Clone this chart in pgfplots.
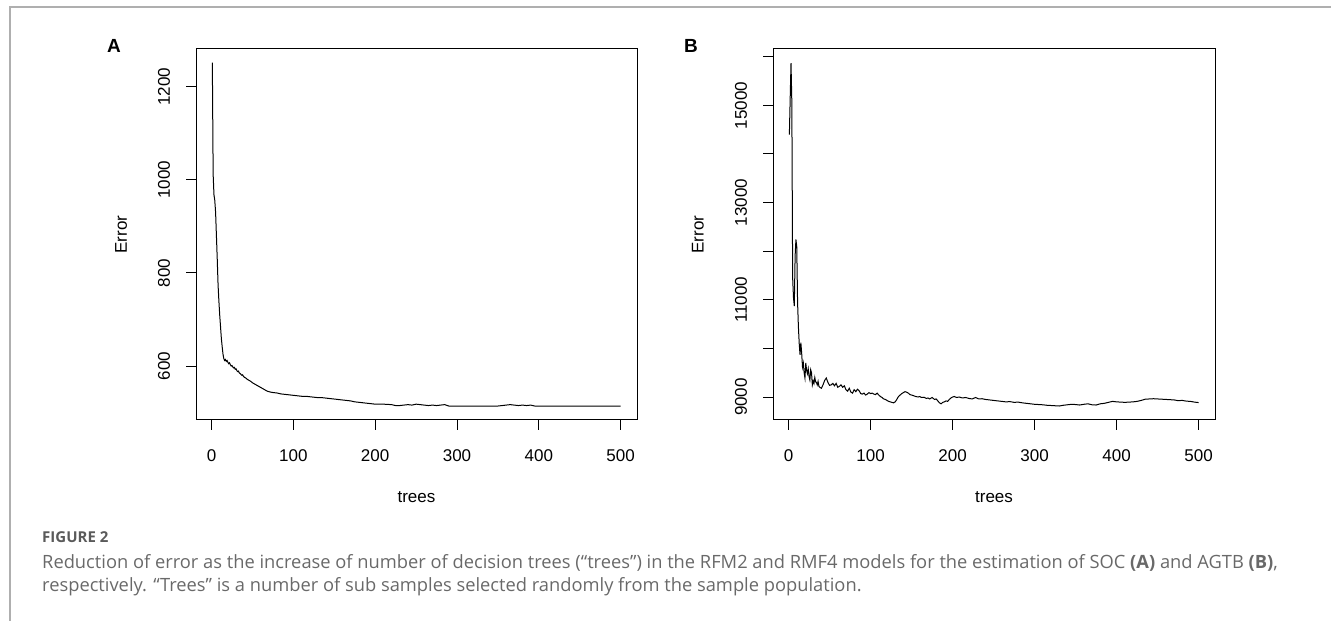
\documentclass[border=0pt]{standalone}
\usepackage{pgfplots}
\pgfplotsset{compat=1.18}
\usepackage{fontspec}
\setmainfont{Liberation Sans}
\newfontfamily\capfont{Open Sans}
\definecolor{framegray}{RGB}{175,175,175}
\definecolor{capgray}{RGB}{105,105,105}
\definecolor{figgray}{RGB}{90,90,90}

\pgfplotstableread{
x y
1 1252
2 1012
3 968
4 956
5 930
6 880
7 830
8 775
9 740
10 710
11 685
12 660
13 642
14 626
15 616
16 612
17 614
18 610
19 612
20 608
21 605
22 607
23 603
24 600
25 601
26 598
27 596
28 597
29 593
30 594
31 590
32 588
33 589
34 585
35 584
36 582
37 580
38 581
39 578
40 576
42 574
44 571
46 569
48 567
50 564
52 562
54 560
56 558
58 556
60 554
62 552
64 550
66 548
68 546
70 545
72 544
75 543
80 542
85 540
90 539
95 538
100 537
105 536
110 535
115 535
120 534
125 533
130 532
135 532
140 531
145 530
150 529
155 528
160 527
165 526
170 525
175 523
180 522
185 521
190 520
195 519
200 518
210 518
220 517
225 515
230 515
235 516
240 517
245 516
250 518
255 517
260 516
265 515
270 516
275 515
280 516
285 517
290 514
300 514
350 514
355 515
360 516
365 517
370 516
375 515
380 516
385 515
390 516
395 514
420 514
450 514
500 514
}\dataA

\pgfplotstableread{
x y
1 14400
2 15150
3 15870
4 15060
5 11450
6 11050
7 10870
8 11900
9 12240
10 12090
11 10950
12 10450
13 10100
14 9870
15 10120
16 9900
17 9620
18 9700
19 9500
20 9390
21 9700
22 9550
23 9480
24 9580
25 9420
26 9350
27 9560
28 9500
29 9250
30 9330
31 9280
32 9400
33 9310
34 9300
35 9250
36 9320
37 9220
38 9200
40 9180
42 9250
44 9340
46 9390
48 9300
50 9240
52 9250
54 9280
56 9230
58 9280
60 9200
62 9220
64 9250
66 9200
68 9230
70 9150
72 9120
74 9180
76 9100
78 9080
80 9150
82 9110
84 9160
86 9130
88 9070
90 9060
92 9080
94 9040
96 9060
98 9090
100 9070
102 9080
104 9060
106 9050
108 9080
110 9040
112 9010
114 8990
116 8960
118 8950
120 8930
122 8910
124 8900
126 8890
128 8880
130 8900
132 8950
134 9010
136 9040
138 9070
140 9090
142 9110
144 9100
146 9080
148 9050
150 9040
152 9030
155 9010
158 9000
160 9010
162 8990
165 8995
168 8970
170 8980
172 8960
175 8990
178 8950
180 8960
182 8920
184 8880
186 8860
188 8890
190 8900
192 8920
194 8910
196 8950
198 8980
200 9000
202 9010
205 8990
208 9000
212 8980
216 8990
220 8970
224 8960
228 8990
232 8960
236 8965
240 8950
245 8940
250 8930
255 8920
260 8910
265 8900
270 8905
275 8890
280 8895
285 8880
290 8870
295 8860
300 8850
305 8845
310 8840
315 8830
320 8825
325 8820
330 8815
335 8830
340 8840
345 8850
350 8845
355 8835
360 8850
365 8860
370 8840
375 8835
380 8860
385 8870
390 8890
395 8910
400 8900
405 8895
410 8890
415 8895
420 8900
425 8910
430 8930
435 8955
440 8960
445 8965
450 8960
455 8955
460 8950
465 8945
470 8940
475 8925
480 8930
485 8915
490 8910
495 8895
500 8885
}\dataB

\pgfplotsset{rstyle/.style={
  scale only axis, height=371pt,
  xmin=-18.96, xmax=519.96,
  axis line style={line width=1pt},
  tick align=outside, xtick pos=bottom, ytick pos=left,
  major tick length=10pt,
  every tick/.style={black, line width=1pt},
  xtick={0,100,...,500},
  scaled y ticks=false,
  tick label style={font=\fontsize{17}{17}\selectfont},
  label style={font=\fontsize{17}{17}\selectfont},
  /pgf/number format/assume math mode=true,
  /pgf/number format/set thousands separator={},
  xlabel={trees}, ylabel={Error},
  xlabel style={at={(axis description cs:0.5,-0.2075)}, anchor=center},
  ylabel style={at={(axis description cs:-0.17,0.5)}, anchor=center},
  xticklabel style={anchor=center, yshift=-26pt},
  yticklabel style={anchor=center, xshift=-22pt},
}}

\begin{document}
\begin{tikzpicture}[x=1pt,y=1pt]
\path[use as bounding box] (0,0) rectangle (1331,621);
\draw[framegray, line width=1.3pt] (10,0) -- (10,614) -- (1331,614);

\begin{axis}[rstyle, at={(196pt,201pt)}, anchor=south west, width=441pt,
  ymin=483.96, ymax=1281.54, ytick={600,800,1000,1200},
  yticklabels={\rotatebox{90}{600},\rotatebox{90}{800},\rotatebox{90}{1000},\rotatebox{90}{1200}}]
\addplot[black, line width=1pt] table[x=x,y=y] {\dataA};
\end{axis}

\begin{axis}[rstyle, at={(773pt,201pt)}, anchor=south west, width=442pt,
  ymin=8527, ymax=16160, ytick={9000,10000,...,16000},
  yticklabels={\rotatebox{90}{9000},,\rotatebox{90}{11000},,\rotatebox{90}{13000},,\rotatebox{90}{15000},}]
\addplot[black, line width=1pt] table[x=x,y=y] {\dataB};
\end{axis}

\node[font=\bfseries\fontsize{19}{19}\selectfont] at (114,575) {A};
\node[font=\bfseries\fontsize{19}{19}\selectfont] at (691,575) {B};

\node[anchor=west, inner sep=0pt, text=figgray, font=\capfont\bfseries\fontsize{15}{15}\selectfont] at (42,84) {FIGURE 2};
\node[anchor=west, inner sep=0pt, text=capgray, font=\capfont\fontsize{18.3}{18.3}\selectfont] at (42,58) {Reduction of error as the increase of number of decision trees (“trees”) in the RFM2 and RMF4 models for the estimation of SOC \textbf{(A)} and AGTB \textbf{(B)},};
\node[anchor=west, inner sep=0pt, text=capgray, font=\capfont\fontsize{18.3}{18.3}\selectfont] at (42,34) {respectively. “Trees” is a number of sub samples selected randomly from the sample population.};
\end{tikzpicture}
\end{document}
